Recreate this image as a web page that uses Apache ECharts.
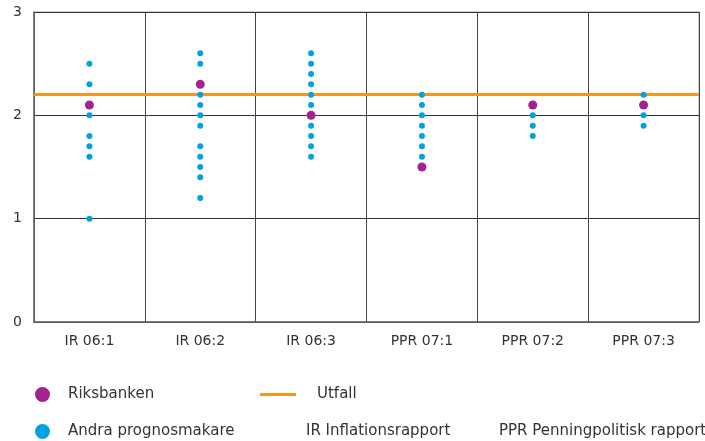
<!DOCTYPE html>
<html><head><meta charset="utf-8">
<script src="https://cdn.jsdelivr.net/npm/echarts@6/dist/echarts.min.js"></script>
<style>html,body{margin:0;padding:0;background:#fff}#c{width:705px;height:441px}</style>
</head><body><div id="c"></div>
<script>
const categories = ['IR 06:1','IR 06:2','IR 06:3','PPR 07:1','PPR 07:2','PPR 07:3'];
const riksbanken = [2.1, 2.3, 2.0, 1.5, 2.1, 2.1];
const andra = [
  [2.5, 2.3, 2.0, 1.8, 1.7, 1.6, 1.0],
  [2.6, 2.5, 2.2, 2.1, 2.0, 1.9, 1.7, 1.6, 1.5, 1.4, 1.2],
  [2.6, 2.5, 2.4, 2.3, 2.2, 2.1, 1.9, 1.8, 1.7, 1.6],
  [2.2, 2.1, 2.0, 1.9, 1.8, 1.7, 1.6],
  [2.0, 1.9, 1.8],
  [2.2, 2.0, 1.9]
];
const utfall = 2.2;
const yTicks = [0, 1, 2, 3];
const notes = ['IR Inflationsrapport', 'PPR Penningpolitisk rapport'];

const FONT = 'DejaVu Sans';
const TXT = '#333';
const andraData = [];
andra.forEach((vals, i) => vals.forEach(v => andraData.push([categories[i], v])));
const riksData = riksbanken.map((v, i) => [categories[i], v]);

const chart = echarts.init(document.getElementById('c'), null, {renderer: 'canvas'});
chart.setOption({
  animation: false,
  textStyle: {fontFamily: FONT, color: TXT},
  grid: {left: 34, right: 6, top: 12, bottom: 119, show: true, borderColor: '#999', borderWidth: 1},
  xAxis: {
    type: 'category', data: categories, boundaryGap: true,
    axisLine: {show: true, lineStyle: {color: '#666', width: 1.5}},
    axisTick: {show: false},
    axisLabel: {color: TXT, fontFamily: FONT, fontSize: 14, margin: 12},
    splitLine: {show: true, interval: 0, lineStyle: {color: '#444', width: 1}}
  },
  yAxis: {
    type: 'value', min: yTicks[0], max: yTicks[yTicks.length - 1], interval: 1,
    axisLine: {show: true, lineStyle: {color: '#666', width: 1.5}},
    axisTick: {show: false},
    axisLabel: {color: TXT, fontFamily: FONT, fontSize: 14, margin: 12},
    splitLine: {show: true, lineStyle: {color: '#333', width: 1}}
  },
  legend: [
    {left: 30, top: 382, itemWidth: 15, itemHeight: 15,
     textStyle: {fontFamily: FONT, fontSize: 15, color: TXT, padding: [0, 0, 0, 13]},
     data: [{name: 'Riksbanken', icon: 'circle'}]},
    {left: 30, top: 419, itemWidth: 15, itemHeight: 15,
     textStyle: {fontFamily: FONT, fontSize: 15, color: TXT, padding: [0, 0, 0, 13]},
     data: [{name: 'Andra prognosmakare', icon: 'circle'}]},
    {left: 255, top: 382, itemWidth: 36, itemHeight: 3,
     textStyle: {fontFamily: FONT, fontSize: 15, color: TXT, padding: [0, 0, 0, 16]},
     data: [{name: 'Utfall', icon: 'rect'}]}
  ],
  graphic: [
    {type: 'text', left: 306, top: 424, style: {text: notes[0], font: '15px "' + FONT + '"', fill: TXT}},
    {type: 'text', left: 499, top: 424, style: {text: notes[1], font: '15px "' + FONT + '"', fill: TXT}}
  ],
  series: [
    {name: 'Utfall', type: 'line', data: [], z: 1, color: '#f7941d',
     lineStyle: {color: '#f7941d', width: 3},
     markLine: {silent: true, symbol: 'none', label: {show: false}, z: 1,
       lineStyle: {color: '#f7941d', width: 3, type: 'solid', opacity: 1},
       data: [{yAxis: utfall}]}},
    {name: 'Riksbanken', type: 'scatter', data: riksData, symbolSize: 9, z: 5,
     itemStyle: {color: '#a3238e', opacity: 1}},
    {name: 'Andra prognosmakare', type: 'scatter', data: andraData, symbolSize: 6, z: 6,
     itemStyle: {color: '#00a3e0', opacity: 1}}
  ]
});
</script></body></html>
